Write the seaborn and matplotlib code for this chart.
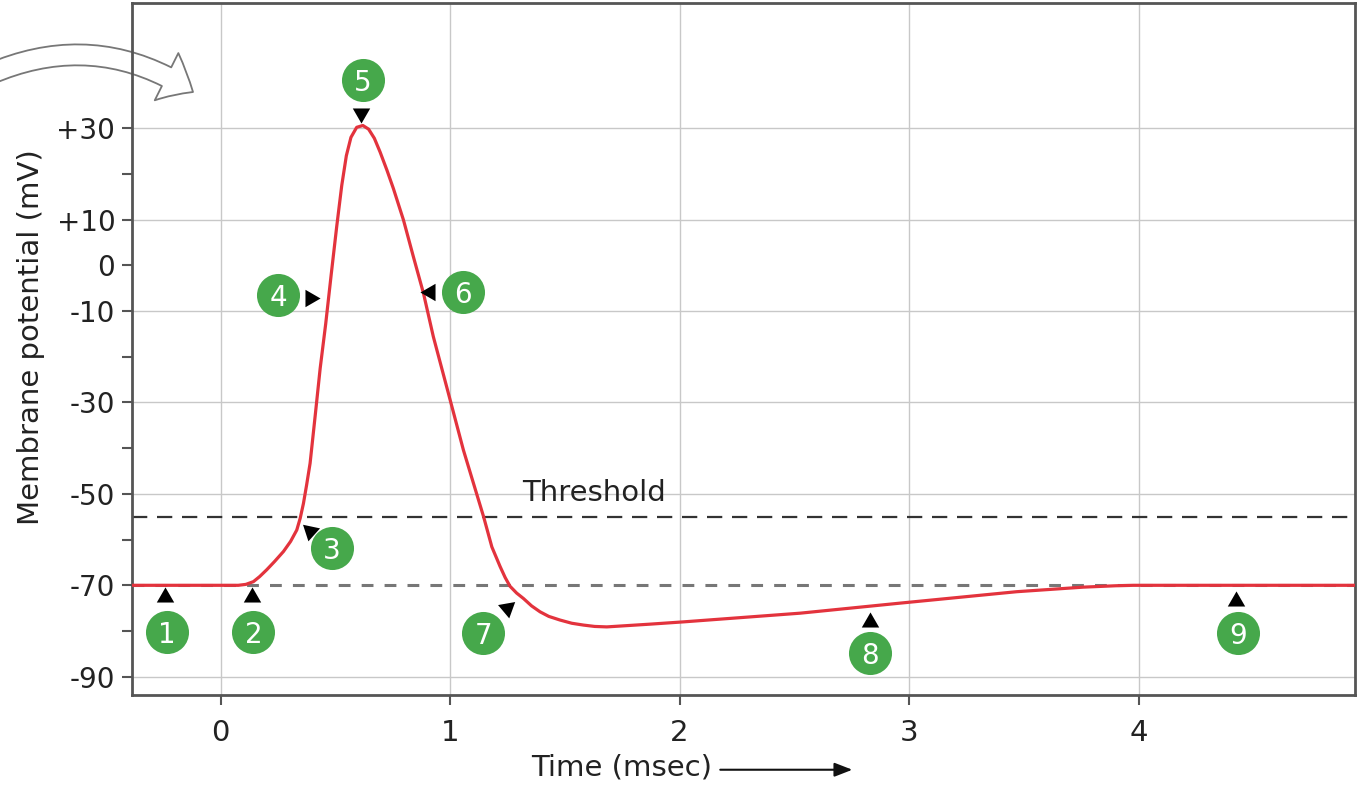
import matplotlib
matplotlib.use("Agg")
import matplotlib.pyplot as plt
from matplotlib.patches import FancyArrowPatch
import seaborn as sns
import pandas as pd

# ---------------- data ----------------
time_ms = [-0.386, 0.077, 0.110, 0.143, 0.170, 0.201, 0.235, 0.274, 0.305, 0.332,
           0.347, 0.361, 0.375, 0.390, 0.412, 0.434, 0.458, 0.482, 0.506, 0.528,
           0.548, 0.568, 0.593, 0.620, 0.645, 0.670, 0.695, 0.725, 0.753, 0.797,
           0.840, 0.884, 0.927, 0.990, 1.058, 1.102, 1.146, 1.182, 1.218, 1.240,
           1.261, 1.290, 1.320, 1.355, 1.392, 1.430, 1.479, 1.530, 1.581, 1.630,
           1.683, 1.871, 2.017, 2.525, 2.961, 3.469, 3.760, 3.900, 3.977, 4.943]
potential_mv = [-70.0, -70.0, -69.8, -69.2, -68.1, -66.6, -64.8, -62.6, -60.4, -57.9,
                -55.3, -52.1, -48.0, -43.3, -33.0, -22.5, -12.8, -2.0, 8.5, 17.5,
                24.0, 28.0, 30.2, 30.6, 29.8, 27.8, 24.8, 20.8, 16.8, 9.9,
                1.9, -6.1, -15.6, -27.5, -40.4, -47.7, -55.0, -61.6, -65.9, -68.3,
                -70.2, -71.7, -72.9, -74.5, -75.8, -76.8, -77.6, -78.3, -78.7, -79.0,
                -79.1, -78.5, -78.0, -76.1, -73.9, -71.4, -70.4, -70.1, -70.0, -70.0]

step_labels = ["1", "2", "3", "4", "5", "6", "7", "8", "9"]
badge_t = [-0.234, 0.143, 0.486, 0.252, 0.620, 1.058, 1.145, 2.830, 4.435]
badge_v = [-80.2, -80.2, -61.9, -6.5, 40.6, -5.9, -80.4, -84.9, -80.5]
pointer_t = [-0.242, 0.136, 0.389, 0.390, 0.612, 0.913, 1.248, 2.830, 4.425]
pointer_v = [-72.6, -72.5, -58.1, -7.2, 33.4, -5.75, -75.0, -78.0, -73.4]
pointer_angle = [0, 0, 48, -90, 180, 90, -50, 0, 0]

threshold_mv = -55
resting_mv = -70
x_ticks = [0, 1, 2, 3, 4]
y_ticks = [30, 10, 0, -10, -30, -50, -70, -90]
y_ticklabels = ["+30", "+10", "0", "-10", "-30", "-50", "-70", "-90"]
y_minor = [20, -20, -40, -60, -80]
y_grid = [30, 10, -10, -30, -50, -90]

# ---------------- style ----------------
sns.set_theme(style="white")
plt.rcParams["font.family"] = ["DejaVu Sans"]
plt.rcParams["lines.scale_dashes"] = False

fig = plt.figure(figsize=(13.64, 7.92), dpi=100)
ax = fig.add_axes([132 / 1364, 1 - 695 / 792, 1223 / 1364, 692 / 792])
ax.set_xlim(-0.386, 4.943)
ax.set_ylim(-94.0, 57.4)

# grid
for xv in x_ticks:
    ax.axvline(xv, color="#c8c8c8", lw=1.0, zorder=0.5)
for yv in y_grid:
    ax.axhline(yv, color="#c8c8c8", lw=1.0, zorder=0.5)

# reference lines
ax.axhline(threshold_mv, color="#333333", lw=1.6, ls=(0, (11, 7)), zorder=1)
ax.axhline(resting_mv, color="#777777", lw=2.2, ls=(0, (8.5, 8)), zorder=1)
ax.text(1.312, -49.8, "Threshold", fontsize=21, color="#222222",
        ha="left", va="center")

# action potential curve
df = pd.DataFrame({"t": time_ms, "v": potential_mv})
sns.lineplot(data=df, x="t", y="v", ax=ax, color="#e3333d", lw=2.3,
             estimator=None, sort=False, zorder=3)
ax.lines[-1].set_solid_joinstyle("round")

# pointers
for t, v, a in zip(pointer_t, pointer_v, pointer_angle):
    ax.scatter([t], [v], marker=(3, 0, a), s=210, color="black",
               linewidths=0, zorder=4)

# badges
ax.scatter(badge_t, badge_v, s=31 ** 2, color="#46a84b", linewidths=0,
           zorder=5, clip_on=False)
for lab, t, v in zip(step_labels, badge_t, badge_v):
    ax.text(t, v, lab, color="white", fontsize=20, ha="center",
            va="center_baseline", zorder=6)

# axes styling
ax.set_xticks(x_ticks)
ax.set_xticklabels([str(x) for x in x_ticks])
ax.set_yticks(y_ticks)
ax.set_yticklabels(y_ticklabels)
ax.set_yticks(y_minor, minor=True)
ax.tick_params(axis="y", which="both", direction="out", length=7, width=1.5,
               color="#555555", labelsize=20, labelcolor="#222222", pad=5,
               left=True)
ax.tick_params(axis="x", which="major", direction="out", length=7, width=1.5,
               color="#555555", labelsize=21, labelcolor="#222222", pad=10,
               bottom=True)
for sp in ax.spines.values():
    sp.set_visible(True)
    sp.set_color("#555555")
    sp.set_linewidth(2.0)
    sp.set_zorder(2.5)

ax.set_xlabel("Time (msec)", fontsize=21, color="#222222")
ax.xaxis.set_label_coords(0.40, -0.085)
ax.set_ylabel("Membrane potential (mV)", fontsize=21, color="#222222")
ax.yaxis.set_label_coords(-0.071, 0.517)

# time arrow next to x label
ax.annotate("", xy=(0.589, -0.108), xytext=(0.481, -0.108),
            xycoords="axes fraction", textcoords="axes fraction",
            arrowprops=dict(arrowstyle="-|>,head_length=0.9,head_width=0.35",
                            color="#111111", lw=1.5, shrinkA=0, shrinkB=0),
            annotation_clip=False)

# decorative curved outline arrow at top-left
curved = FancyArrowPatch(posA=(-10 / 1364, 1 - 74 / 792),
                         posB=(193 / 1364, 1 - 92 / 792),
                         transform=fig.transFigure,
                         connectionstyle="arc3,rad=-0.27",
                         arrowstyle="simple,head_length=22,head_width=38,tail_width=15",
                         mutation_scale=1, shrinkA=0, shrinkB=0,
                         fc="white", ec="#777777", lw=1.3,
                         clip_on=False, zorder=1.5)
ax.add_patch(curved)

fig.savefig("out.png", dpi=100)
